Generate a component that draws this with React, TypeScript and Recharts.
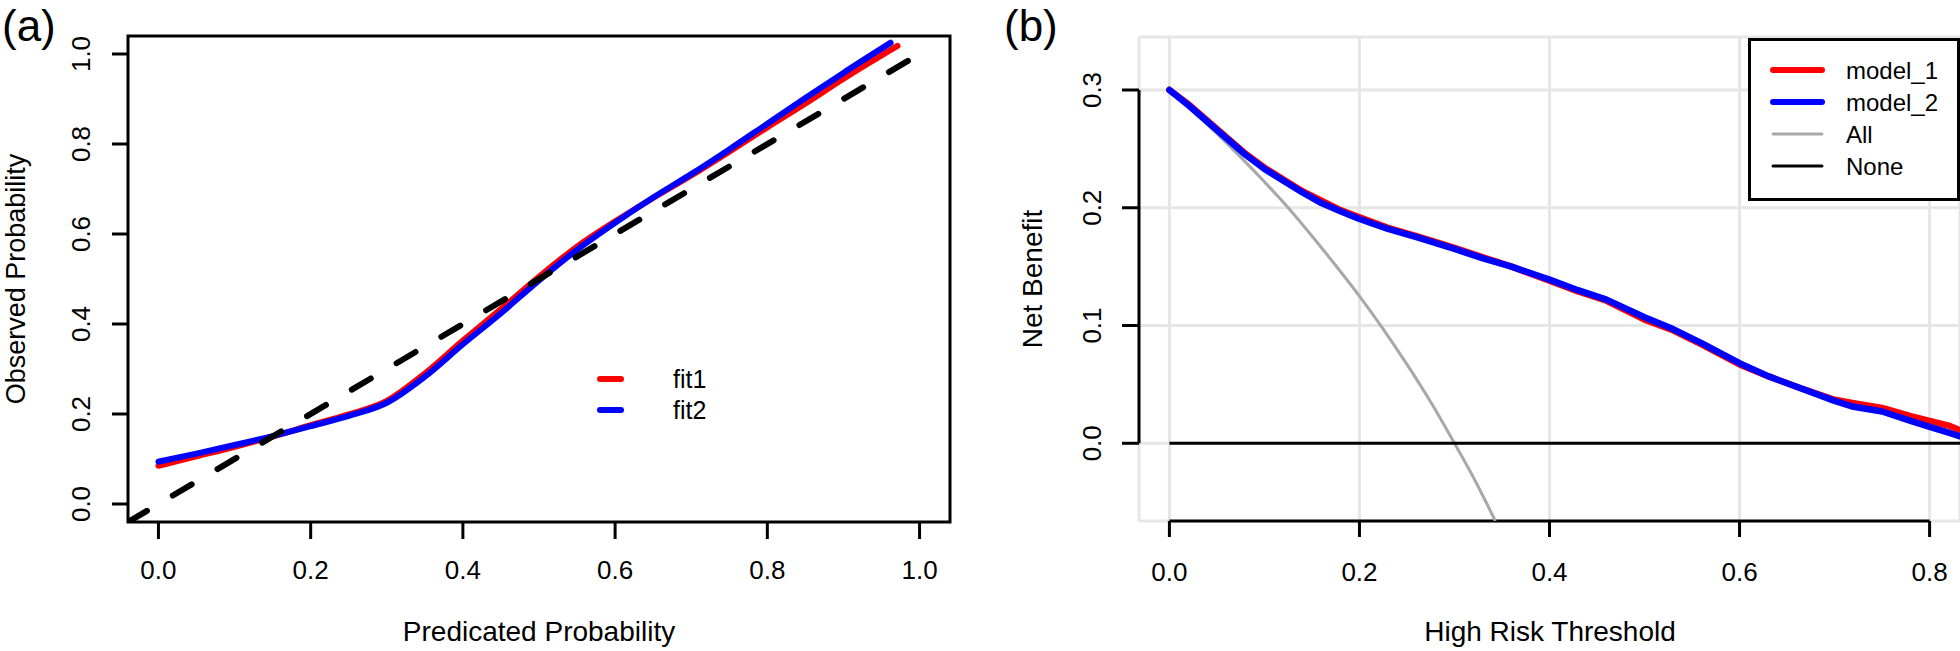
import {
  CartesianGrid,
  Line,
  LineChart,
  ReferenceArea,
  ReferenceLine,
  XAxis,
  YAxis,
} from 'recharts';

const FONT = '"Liberation Sans", Arial, Helvetica, sans-serif';

// (a) calibration curves
const fit1Pred = [0, 0.05, 0.1, 0.15, 0.2, 0.25, 0.3, 0.35, 0.4, 0.45, 0.5, 0.55, 0.6, 0.65, 0.7, 0.75, 0.8, 0.85, 0.9, 0.971];
const fit1Obs = [0.085, 0.106, 0.127, 0.15, 0.175, 0.199, 0.229, 0.29, 0.363, 0.433, 0.505, 0.572, 0.628, 0.68, 0.73, 0.783, 0.837, 0.89, 0.945, 1.018];
const fit2Pred = [0, 0.05, 0.1, 0.15, 0.2, 0.25, 0.3, 0.35, 0.4, 0.45, 0.5, 0.55, 0.6, 0.65, 0.7, 0.75, 0.8, 0.85, 0.9, 0.962];
const fit2Obs = [0.094, 0.112, 0.131, 0.151, 0.173, 0.196, 0.225, 0.283, 0.355, 0.424, 0.497, 0.565, 0.625, 0.681, 0.733, 0.788, 0.845, 0.902, 0.958, 1.025];
const diagPred = [-0.04, 1.01];
const diagObs = [-0.04, 1.01];
const calTicks = [0, 0.2, 0.4, 0.6, 0.8, 1.0];

// (b) decision curves
const nbThreshold = [0, 0.02, 0.04, 0.06, 0.08, 0.1, 0.12, 0.14, 0.16, 0.18, 0.2, 0.23, 0.26, 0.3, 0.33, 0.36, 0.4, 0.43, 0.46, 0.5, 0.53, 0.56, 0.6, 0.63, 0.66, 0.7, 0.72, 0.75, 0.78, 0.8, 0.82, 0.835];
const model1NB = [0.3, 0.288, 0.274, 0.26, 0.246, 0.234, 0.224, 0.214, 0.206, 0.198, 0.192, 0.183, 0.176, 0.166, 0.158, 0.15, 0.138, 0.129, 0.121, 0.105, 0.096, 0.084, 0.067, 0.057, 0.048, 0.037, 0.034, 0.03, 0.023, 0.019, 0.015, 0.01];
const model2NB = [0.3, 0.287, 0.273, 0.259, 0.245, 0.233, 0.223, 0.213, 0.204, 0.197, 0.1905, 0.182, 0.175, 0.165, 0.157, 0.15, 0.139, 0.13, 0.122, 0.107, 0.097, 0.085, 0.068, 0.057, 0.048, 0.036, 0.031, 0.027, 0.019, 0.014, 0.009, 0.005];
const allThreshold = [0, 0.025, 0.05, 0.075, 0.1, 0.125, 0.15, 0.175, 0.2, 0.225, 0.25, 0.275, 0.3, 0.32, 0.343];
const allNB = [0.3, 0.282, 0.263, 0.243, 0.222, 0.2, 0.176, 0.151, 0.125, 0.097, 0.067, 0.035, 0, -0.029, -0.066];
const noneThreshold = [0, 0.835];
const noneNB = [0, 0];
const nbXTicks = [0, 0.2, 0.4, 0.6, 0.8];
const nbYTicks = [0, 0.1, 0.2, 0.3];

const toPoints = (xs: number[], ys: number[]) => xs.map((x, i) => ({ x, y: ys[i] }));

const fit1Data = toPoints(fit1Pred, fit1Obs);
const fit2Data = toPoints(fit2Pred, fit2Obs);
const diagData = toPoints(diagPred, diagObs);
const model1Data = toPoints(nbThreshold, model1NB);
const model2Data = toPoints(nbThreshold, model2NB);
const allData = toPoints(allThreshold, allNB);
const noneData = toPoints(noneThreshold, noneNB);

const makeXTick = (dy: number) => (props: any) => {
  const { x, y, payload } = props;
  return (
    <text x={x} y={y + dy} textAnchor="middle" fontSize={26} fontFamily={FONT} fill="#000">
      {Number(payload.value).toFixed(1)}
    </text>
  );
};

const makeYTick = (dx: number) => (props: any) => {
  const { x, y, payload } = props;
  const bx = x + dx;
  return (
    <text
      x={bx}
      y={y}
      transform={`rotate(-90, ${bx}, ${y})`}
      textAnchor="middle"
      fontSize={26}
      fontFamily={FONT}
      fill="#000"
    >
      {Number(payload.value).toFixed(1)}
    </text>
  );
};

const tickStyle = { stroke: '#000', strokeWidth: 3 };

export default function App() {
  return (
    <div
      style={{
        position: 'absolute',
        left: 0,
        top: 0,
        width: 1960,
        height: 651,
        background: '#fff',
        overflow: 'hidden',
      }}
    >
      {/* painel (a) */}
      <div style={{ position: 'absolute', left: 0, top: 0 }}>
        <LineChart width={980} height={651} margin={{ top: 36, right: 30, bottom: 0, left: 0 }}>
          <XAxis
            type="number"
            dataKey="x"
            domain={[-0.04, 1.04]}
            ticks={calTicks}
            allowDataOverflow
            axisLine={false}
            tickLine={tickStyle}
            tickSize={17}
            tickMargin={0}
            height={129}
            tick={makeXTick(40)}
          />
          <YAxis
            type="number"
            dataKey="y"
            domain={[-0.04, 1.04]}
            ticks={calTicks}
            allowDataOverflow
            axisLine={false}
            tickLine={tickStyle}
            tickSize={16}
            tickMargin={0}
            width={128}
            tick={makeYTick(-22)}
          />
          <Line
            data={fit1Data}
            dataKey="y"
            type="monotone"
            stroke="#ff0000"
            strokeWidth={6}
            strokeLinecap="round"
            dot={false}
            isAnimationActive={false}
          />
          <Line
            data={fit2Data}
            dataKey="y"
            type="monotone"
            stroke="#0000ff"
            strokeWidth={6}
            strokeLinecap="round"
            dot={false}
            isAnimationActive={false}
          />
          <Line
            data={diagData}
            dataKey="y"
            type="linear"
            stroke="#000"
            strokeWidth={6}
            strokeDasharray="22 30"
            strokeLinecap="round"
            dot={false}
            isAnimationActive={false}
          />
          <ReferenceArea
            x1={-0.04}
            x2={1.04}
            y1={-0.04}
            y2={1.04}
            fill="none"
            fillOpacity={0}
            stroke="#000"
            strokeWidth={3}
            ifOverflow="visible"
          />
        </LineChart>
      </div>

      {/* painel (b) */}
      <div style={{ position: 'absolute', left: 980, top: 0 }}>
        <LineChart width={980} height={651} margin={{ top: 37, right: 0, bottom: 0, left: 0 }}>
          <CartesianGrid stroke="#e6e6e6" strokeWidth={3} />
          <XAxis
            type="number"
            dataKey="x"
            domain={[-0.032, 0.832]}
            ticks={nbXTicks}
            allowDataOverflow
            axisLine={false}
            tickLine={tickStyle}
            tickSize={16}
            tickMargin={0}
            height={130}
            tick={makeXTick(44)}
          />
          <YAxis
            type="number"
            dataKey="y"
            domain={[-0.066, 0.345]}
            ticks={nbYTicks}
            allowDataOverflow
            axisLine={false}
            tickLine={tickStyle}
            tickSize={17}
            tickMargin={0}
            width={159}
            tick={makeYTick(-21)}
          />
          <ReferenceLine
            segment={[{ x: 0, y: -0.066 }, { x: 0.8, y: -0.066 }]}
            stroke="#000"
            strokeWidth={3}
            ifOverflow="visible"
          />
          <ReferenceLine
            segment={[{ x: -0.032, y: 0 }, { x: -0.032, y: 0.3 }]}
            stroke="#000"
            strokeWidth={3}
            ifOverflow="visible"
          />
          <Line
            data={allData}
            dataKey="y"
            type="monotone"
            stroke="#a8a8a8"
            strokeWidth={3}
            dot={false}
            isAnimationActive={false}
          />
          <Line
            data={noneData}
            dataKey="y"
            type="linear"
            stroke="#000"
            strokeWidth={3}
            dot={false}
            isAnimationActive={false}
          />
          <Line
            data={model1Data}
            dataKey="y"
            type="linear"
            stroke="#ff0000"
            strokeWidth={6.5}
            strokeLinecap="round"
            strokeLinejoin="round"
            dot={false}
            isAnimationActive={false}
          />
          <Line
            data={model2Data}
            dataKey="y"
            type="linear"
            stroke="#0000ff"
            strokeWidth={6.5}
            strokeLinecap="round"
            strokeLinejoin="round"
            dot={false}
            isAnimationActive={false}
          />
        </LineChart>
      </div>

      {/* titulos e legendas */}
      <svg
        width={1960}
        height={651}
        style={{ position: 'absolute', left: 0, top: 0, pointerEvents: 'none' }}
        fontFamily={FONT}
      >
        <text x={2} y={41} fontSize={44}>(a)</text>
        <text x={1004} y={41} fontSize={44}>(b)</text>

        <text x={25} y={279} fontSize={27} textAnchor="middle" transform="rotate(-90, 25, 279)">
          Observed Probability
        </text>
        <text x={539} y={641} fontSize={28} textAnchor="middle">Predicated Probability</text>
        <text x={1042} y={279} fontSize={28} textAnchor="middle" transform="rotate(-90, 1042, 279)">
          Net Benefit
        </text>
        <text x={1550} y={641} fontSize={28} textAnchor="middle">High Risk Threshold</text>

        {/* legenda (a) */}
        <line x1={600} y1={379} x2={621} y2={379} stroke="#ff0000" strokeWidth={6} strokeLinecap="round" />
        <line x1={600} y1={410} x2={621} y2={410} stroke="#0000ff" strokeWidth={6} strokeLinecap="round" />
        <text x={673} y={388} fontSize={25}>fit1</text>
        <text x={673} y={419} fontSize={25}>fit2</text>

        {/* legenda (b) */}
        <rect x={1749.5} y={39.5} width={209} height={160} fill="#fff" stroke="#000" strokeWidth={3} />
        <line x1={1773} y1={70} x2={1822} y2={70} stroke="#ff0000" strokeWidth={6} strokeLinecap="round" />
        <line x1={1773} y1={102} x2={1822} y2={102} stroke="#0000ff" strokeWidth={6} strokeLinecap="round" />
        <line x1={1773} y1={134} x2={1822} y2={134} stroke="#a8a8a8" strokeWidth={3} strokeLinecap="round" />
        <line x1={1773} y1={166} x2={1822} y2={166} stroke="#000" strokeWidth={3} strokeLinecap="round" />
        <text x={1846} y={79} fontSize={24}>model_1</text>
        <text x={1846} y={111} fontSize={24}>model_2</text>
        <text x={1846} y={143} fontSize={24}>All</text>
        <text x={1846} y={175} fontSize={24}>None</text>
      </svg>
    </div>
  );
}
